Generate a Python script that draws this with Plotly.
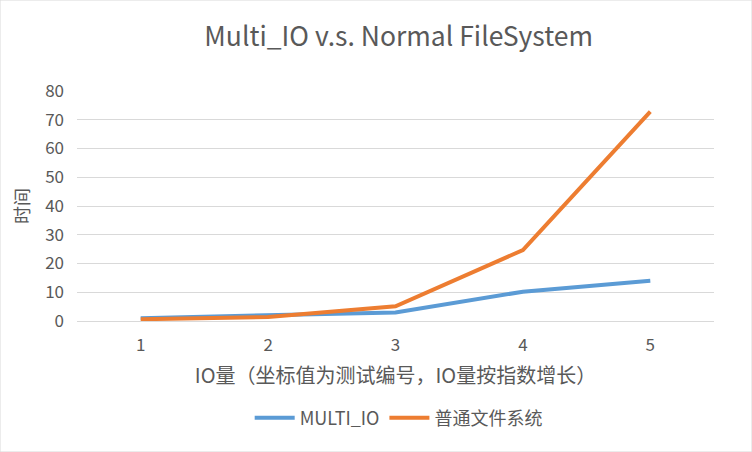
import plotly.graph_objects as go

categories = ["1", "2", "3", "4", "5"]
multi_io = [1, 2, 3, 10.2, 14]
normal_fs = [0.6, 1.4, 5.1, 24.7, 72.8]
y_ticks = [0, 10, 20, 30, 40, 50, 60, 70, 80]

FONT = "Noto Sans CJK SC, Noto Sans, sans-serif"
GRAY = "#595959"

fig = go.Figure()
fig.add_trace(go.Scatter(x=categories, y=multi_io, mode="lines", name="MULTI_IO",
                         line=dict(color="#5B9BD5", width=4)))
fig.add_trace(go.Scatter(x=categories, y=normal_fs, mode="lines", name="普通文件系统",
                         line=dict(color="#ED7D31", width=4)))

fig.update_layout(
    width=752, height=452,
    margin=dict(l=77, r=38, t=91, b=131),
    paper_bgcolor="white", plot_bgcolor="white",
    font=dict(family=FONT, color=GRAY, size=17),
    title=dict(text="Multi_IO v.s. Normal FileSystem", xref="paper", x=0.505, xanchor="center",
               y=1 - 37 / 452, yanchor="middle", font=dict(size=26.5, color=GRAY)),
    xaxis=dict(type="category", range=[-0.5, 4.5], showgrid=False, zeroline=False,
               showline=False, ticks="", tickfont=dict(size=17, color=GRAY), ticklabelstandoff=12,
               title=dict(text="IO量（坐标值为测试编号，IO量按指数增长）", font=dict(size=20, color=GRAY),
                          standoff=13)),
    yaxis=dict(range=[0, 80], tickvals=y_ticks, showgrid=True, gridcolor="#d9d9d9", gridwidth=1,
               zeroline=True, zerolinecolor="#d9d9d9", zerolinewidth=1, showline=False, ticks="",
               tickfont=dict(size=17, color=GRAY), ticklabelstandoff=12,
               title=dict(text="时间", font=dict(size=18, color=GRAY), standoff=10)),
    legend=dict(orientation="h", x=0.505, xanchor="center", y=-97 / 230, yanchor="middle",
                font=dict(size=18, color=GRAY), itemwidth=40),
    showlegend=True,
)

fig.add_shape(type="rect", xref="paper", yref="paper",
              x0=-77 / 637, x1=1 + 38 / 637, y0=-131 / 230, y1=1 + 91 / 230,
              line=dict(color="#d9d9d9", width=1), layer="below")

fig.write_html("out.html")
